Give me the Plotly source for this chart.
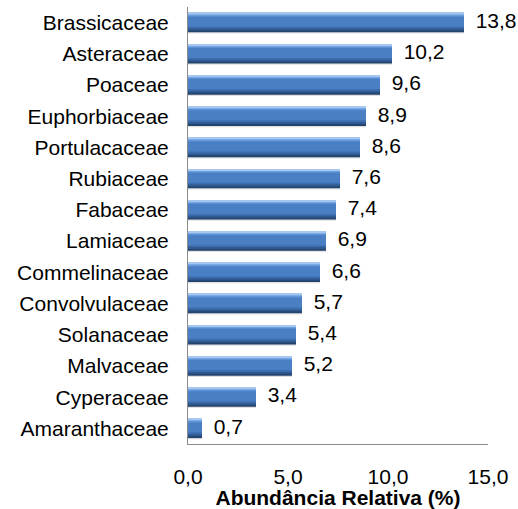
import plotly.graph_objects as go

families = ["Brassicaceae", "Asteraceae", "Poaceae", "Euphorbiaceae", "Portulacaceae",
            "Rubiaceae", "Fabaceae", "Lamiaceae", "Commelinaceae", "Convolvulaceae",
            "Solanaceae", "Malvaceae", "Cyperaceae", "Amaranthaceae"]
abundance = [13.8, 10.2, 9.6, 8.9, 8.6, 7.6, 7.4, 6.9, 6.6, 5.7, 5.4, 5.2, 3.4, 0.7]
x_ticks = [0, 5, 10, 15]
x_title = "Abundância Relativa (%)"

FONT = "Liberation Sans, Arial, sans-serif"
labels = [f"{v:.1f}".replace(".", ",") for v in abundance]

fig = go.Figure()

# soft shadow
fig.add_trace(go.Bar(y=families, x=abundance, orientation="h", width=0.62, offset=-0.27,
                     marker=dict(color="rgba(110,110,110,0.22)", line=dict(width=0)),
                     hoverinfo="skip", showlegend=False))

# layered gradient (all start at the bar top, drawn dark -> light so no seams)
layers = [
    (0.62, "#23446F"),
    (0.56, "#30598F"),
    (0.50, "#3D6DAE"),
    (0.44, "#4A7FC4"),
    (0.12, "#5C92D6"),
    (0.08, "#7BAAE4"),
    (0.04, "#A6C7EF"),
]
for w, c in layers:
    fig.add_trace(go.Bar(y=families, x=abundance, orientation="h", width=w, offset=-0.31,
                         marker=dict(color=c, line=dict(width=0)),
                         hoverinfo="skip", showlegend=False))

fig.add_trace(go.Scatter(y=families, x=abundance, mode="text", text=labels,
                         textposition="middle right", cliponaxis=False,
                         texttemplate="  %{text}",
                         textfont=dict(family=FONT, size=21, color="#000000"),
                         hoverinfo="skip", showlegend=False))

n = len(families)
fig.update_layout(
    width=518, height=509,
    margin=dict(l=188, r=30, t=7, b=65),
    barmode="overlay",
    paper_bgcolor="white", plot_bgcolor="white",
    separators=",.",
    font=dict(family=FONT, size=21, color="#000000"),
    xaxis=dict(range=[0, 15], tickvals=x_ticks, tickformat=".1f", automargin=False,
               showgrid=False, zeroline=False, showline=True, linecolor="#8C8C8C",
               linewidth=1, ticks="", ticklabelstandoff=14,
               title=dict(text="<b>" + x_title + "</b>", standoff=6,
                          font=dict(family=FONT, size=21))),
    yaxis=dict(type="category", range=[n - 0.5, -0.5], autorange=False, automargin=False,
               showgrid=False, zeroline=False,
               showline=True, linecolor="#8C8C8C", linewidth=1, ticks="",
               ticklabelstandoff=14),
)

fig.write_html("out.html", config={"displayModeBar": False},
               post_script="document.body.style.margin='0';document.body.style.overflow='hidden';")
